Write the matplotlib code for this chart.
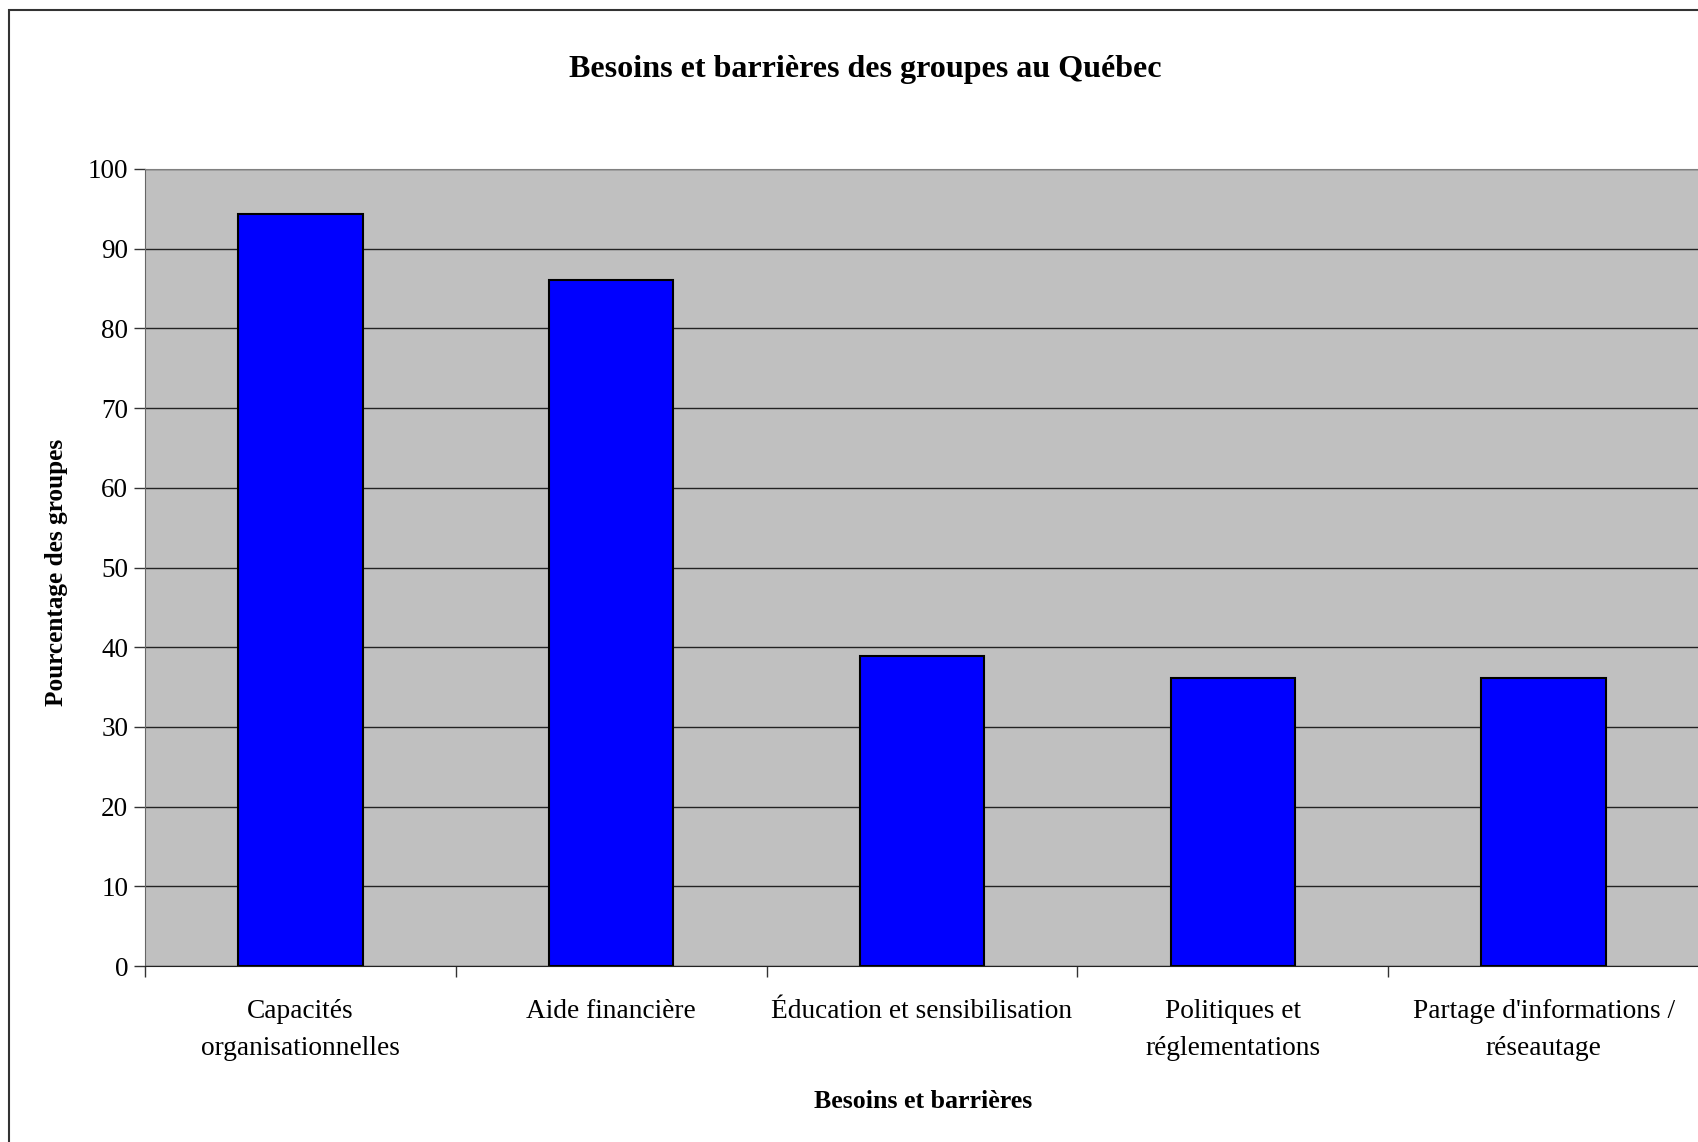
"""
Bar chart: besoins et barrières des groupes au Québec.
"""

import numpy as np
import matplotlib

matplotlib.use("Agg")
import matplotlib.pyplot as plt
from matplotlib.patches import Rectangle

categories = [
    "Capacités\norganisationnelles",
    "Aide financière",
    "Éducation et sensibilisation",
    "Politiques et\nréglementations",
    "Partage d'informations /\nréseautage",
]
values = [94.4, 86.1, 38.9, 36.1, 36.1]
y_ticks = list(range(0, 101, 10))

title = "Besoins et barrières des groupes au Québec"
x_label = "Besoins et barrières"
y_label = "Pourcentage des groupes"


def main() -> None:
    plt.rcParams["font.family"] = ["Liberation Serif", "DejaVu Serif"]

    fig = plt.figure(figsize=(16.98, 11.42), dpi=100)
    W, H = 1698, 1142

    # outer chart border (cut off on the right and bottom)
    fig.patches.append(
        Rectangle((9 / W, -0.05), 1.2, 1 - 10 / H + 0.05, transform=fig.transFigure,
                  fill=False, edgecolor="#333333", linewidth=1.5)
    )

    ax = fig.add_axes([145 / W, 1 - 966 / H, 1 - 145 / W + 0.0006, (966 - 169) / H])
    ax.set_facecolor("#C0C0C0")

    x = np.arange(len(categories))
    ax.bar(x, values, width=0.4, color="#0000FF", edgecolor="black", linewidth=1.5, zorder=3)

    ax.set_xlim(-0.5, len(categories) - 0.5)
    ax.set_ylim(0, 100)
    ax.set_yticks(y_ticks)
    ax.yaxis.grid(True, color="#222222", linewidth=1.0, zorder=1)
    ax.set_axisbelow(True)

    ax.set_xticks(x)
    ax.set_xticklabels(categories, fontsize=19.7, linespacing=1.63)
    ax.set_xticks(np.arange(-0.5, len(categories), 1.0), minor=True)
    ax.tick_params(axis="x", which="major", length=0, pad=24)
    ax.tick_params(axis="x", which="minor", length=8, width=1.0, direction="out", color="#333333")
    ax.tick_params(axis="y", length=8, width=1.0, direction="out", labelsize=19.5, pad=4,
                   color="#333333")

    for side in ("top", "right"):
        ax.spines[side].set_color("#808080")
    ax.spines["left"].set_color("#666666")
    ax.spines["bottom"].set_color("#222222")
    ax.spines["right"].set_visible(False)

    fig.text(865 / W, 1 - 69 / H, title, ha="center", va="center",
             fontsize=23.1, fontweight="bold")
    fig.text(923 / W, 1 - 1102 / H, x_label, ha="center", va="center",
             fontsize=18.6, fontweight="bold")
    fig.text(56 / W, 1 - 572 / H, y_label, ha="center", va="center", rotation=90,
             fontsize=18.2, fontweight="bold")

    fig.savefig("out.png", dpi=100)
    plt.close(fig)


if __name__ == "__main__":
    main()
